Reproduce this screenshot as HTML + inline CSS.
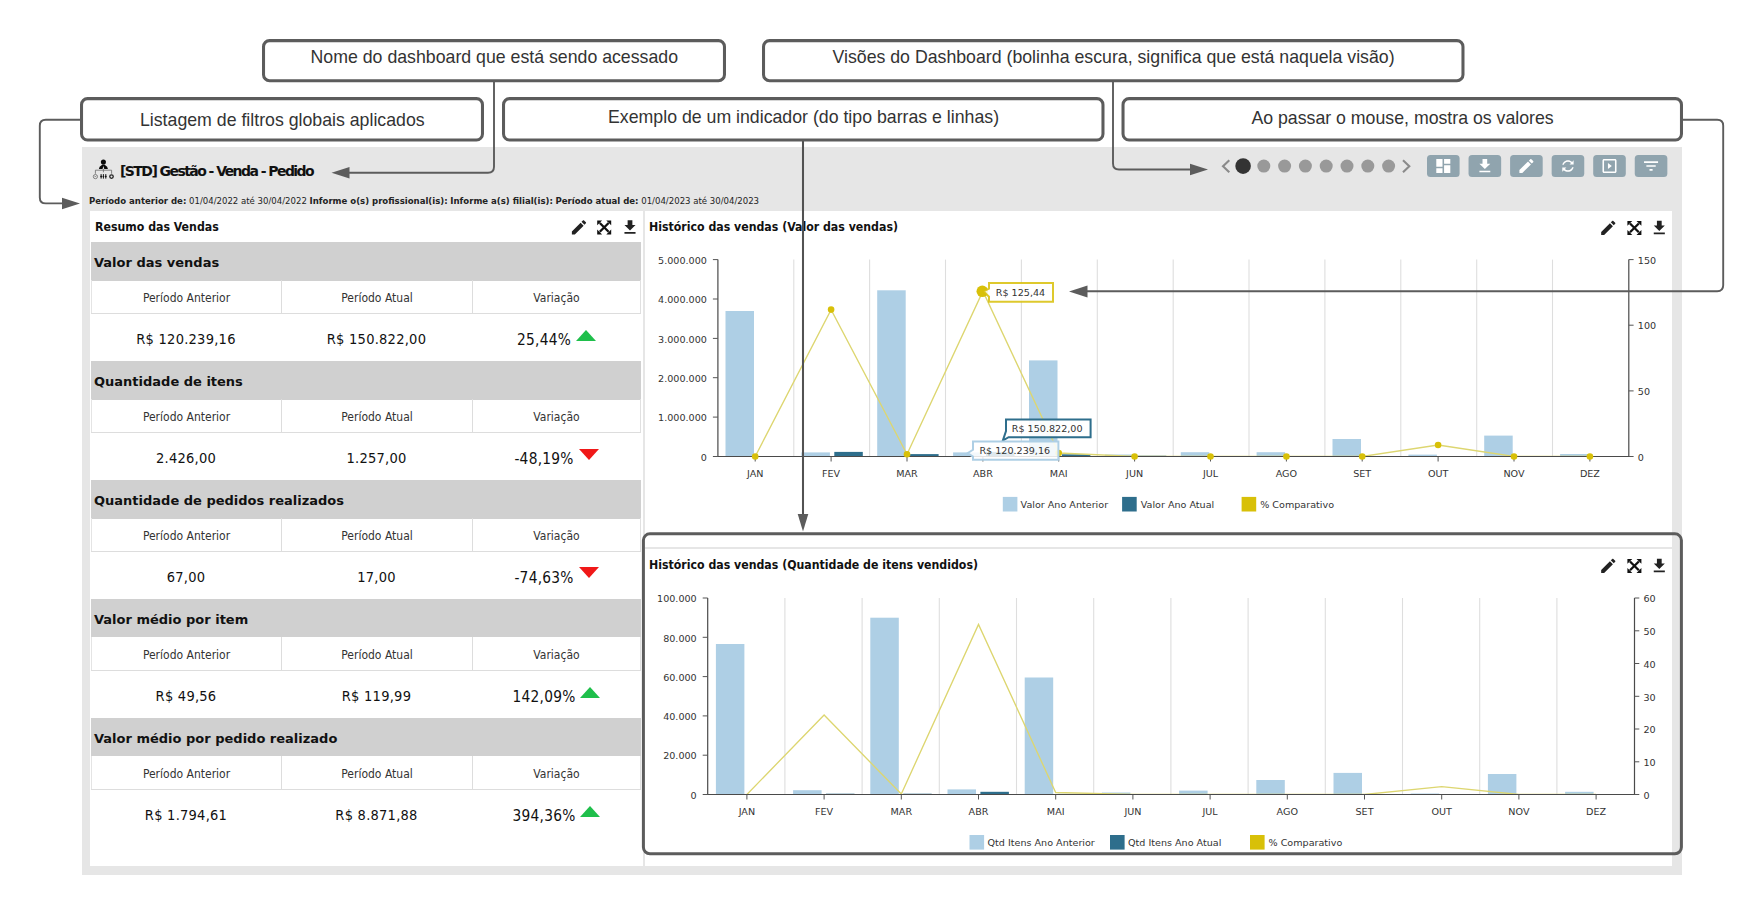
<!DOCTYPE html>
<html lang="pt-BR"><head><meta charset="utf-8"><title>[STD] Gestão - Venda - Pedido</title>
<style>
html,body{margin:0;padding:0;background:#fff;}
body{width:1763px;height:914px;position:relative;overflow:hidden;font-family:"DejaVu Sans Condensed","DejaVu Sans","Liberation Sans",sans-serif;color:#111;}
.abs{position:absolute;}
.panel{position:absolute;background:#fff;}
.note{position:absolute;box-sizing:border-box;border:2.5px solid #5a5a5a;border-radius:7px;background:#fff;font-family:"Liberation Sans",sans-serif;font-size:17px;color:#333;text-align:center;white-space:nowrap;}
.note span{position:absolute;left:0;right:0;}
.t{position:absolute;white-space:nowrap;line-height:1;}
.ptitle{font-weight:bold;font-size:12.23px;color:#111;}
.band{position:absolute;left:91px;width:550px;height:38.4px;background:#d0d0d0;}
.band span{position:absolute;left:3px;top:13.9px;font-family:"DejaVu Sans",sans-serif;font-weight:bold;font-size:13px;line-height:1;white-space:nowrap;color:#111;}
.hrow{position:absolute;left:91px;width:550px;height:34px;box-sizing:border-box;border-bottom:1px solid #ddd;}
.hrow div{position:absolute;top:0;height:33px;line-height:36px;text-align:center;font-size:12px;color:#333;box-sizing:border-box;}
.vrow{position:absolute;left:91px;width:550px;height:47px;}
.vrow div{position:absolute;top:0;height:47px;line-height:51px;text-align:center;font-size:14.5px;letter-spacing:0.25px;color:#111;white-space:nowrap;}
.c1{left:0;width:190px;}
.hrow .c1{border-left:1px solid #e4e4e4;}
.hrow .c3{border-right:1px solid #e0e0e0;}
.c2{left:190px;width:191px;border-left:1px solid #ddd;}
.c3{left:381px;width:169px;border-left:1px solid #ddd;}
.vrow .c2,.vrow .c3{border-left:none;}
.up{display:inline-block;width:0;height:0;border-left:10px solid transparent;border-right:10px solid transparent;border-bottom:11px solid #1fbf4b;margin-left:5px;position:relative;top:-2.6px;}
.dn{display:inline-block;width:0;height:0;border-left:10px solid transparent;border-right:10px solid transparent;border-top:11px solid #f01818;margin-left:5px;position:relative;top:-3.4px;}
svg text{font-family:"DejaVu Sans",sans-serif;}
</style></head><body>

<div class="abs" style="left:82px;top:147px;width:1600px;height:728px;background:#e6e6e6;"></div>
<div class="panel" style="left:90px;top:211px;width:552.5px;height:655px;"></div>
<div class="panel" style="left:644.5px;top:211px;width:1027.5px;height:336px;"></div>
<div class="panel" style="left:644.5px;top:549px;width:1027.5px;height:317px;"></div>
<div class="t" style="left:120px;top:164px;font-family:'DejaVu Sans',sans-serif;font-size:14px;font-weight:bold;letter-spacing:-1.56px;color:#111;">[STD] Gestão - Venda - Pedido</div>
<div class="t" style="left:89px;top:196.2px;font-size:9.5px;color:#222;"><b>Período anterior de:</b> 01/04/2022 até 30/04/2022 <b>Informe o(s) profissional(is):</b> <b>Informe a(s) filial(is):</b> <b>Período atual de:</b> 01/04/2023 até 30/04/2023</div>
<div class="t ptitle" style="left:95px;top:220.5px;">Resumo das Vendas</div>
<div class="t ptitle" style="left:649px;top:220.5px;">Histórico das vendas (Valor das vendas)</div>
<div class="t ptitle" style="left:649px;top:558.5px;">Histórico das vendas (Quantidade de itens vendidos)</div>
<div class="band" style="top:242.4px;"><span>Valor das vendas</span></div>
<div class="hrow" style="top:280.4px;"><div class="c1">Período Anterior</div><div class="c2">Período Atual</div><div class="c3">Variação</div></div>
<div class="vrow" style="top:314.0px;"><div class="c1">R$ 120.239,16</div><div class="c2">R$ 150.822,00</div><div class="c3"><span style="position:relative;top:1.4px;font-size:15.3px;">25,44%</span><i class="up"></i></div></div>
<div class="band" style="top:361.3px;"><span>Quantidade de itens</span></div>
<div class="hrow" style="top:399.3px;"><div class="c1">Período Anterior</div><div class="c2">Período Atual</div><div class="c3">Variação</div></div>
<div class="vrow" style="top:432.9px;"><div class="c1">2.426,00</div><div class="c2">1.257,00</div><div class="c3"><span style="position:relative;top:1.4px;font-size:15.3px;">-48,19%</span><i class="dn"></i></div></div>
<div class="band" style="top:480.2px;"><span>Quantidade de pedidos realizados</span></div>
<div class="hrow" style="top:518.2px;"><div class="c1">Período Anterior</div><div class="c2">Período Atual</div><div class="c3">Variação</div></div>
<div class="vrow" style="top:551.8px;"><div class="c1">67,00</div><div class="c2">17,00</div><div class="c3"><span style="position:relative;top:1.4px;font-size:15.3px;">-74,63%</span><i class="dn"></i></div></div>
<div class="band" style="top:599.1px;"><span>Valor médio por item</span></div>
<div class="hrow" style="top:637.1px;"><div class="c1">Período Anterior</div><div class="c2">Período Atual</div><div class="c3">Variação</div></div>
<div class="vrow" style="top:670.7px;"><div class="c1">R$ 49,56</div><div class="c2">R$ 119,99</div><div class="c3"><span style="position:relative;top:1.4px;font-size:15.3px;">142,09%</span><i class="up"></i></div></div>
<div class="band" style="top:718.0px;"><span>Valor médio por pedido realizado</span></div>
<div class="hrow" style="top:756.0px;"><div class="c1">Período Anterior</div><div class="c2">Período Atual</div><div class="c3">Variação</div></div>
<div class="vrow" style="top:789.6px;"><div class="c1">R$ 1.794,61</div><div class="c2">R$ 8.871,88</div><div class="c3"><span style="position:relative;top:1.4px;font-size:15.3px;">394,36%</span><i class="up"></i></div></div>
<svg class="abs" style="left:0;top:0;" width="1763" height="914" viewBox="0 0 1763 914">
<g fill="#0a0a0a" stroke="none">
<circle cx="103.4" cy="162" r="2.55"/>
<path d="M98.9 168.9q0.2-2.6 2.6-3.6l1.4-0.9h1l1.4 0.9q2.4 1 2.6 3.6h-3.6l-0.9-3-0.9 3z"/>
</g>
<g stroke="#6a6a6a" stroke-width="0.8" fill="none">
<path d="M103.4 168.9v3.4M95.4 173.8v-3.6h16.2v3.6"/>
<circle cx="95.4" cy="176.6" r="2.1"/><path d="M94.5 175.8l0.9 1.1 0.9-1.1" stroke-width="0.7"/>
</g>
<circle cx="111.5" cy="176.6" r="1.75" fill="none" stroke="#222" stroke-width="1.3"/>
<g stroke="#111" stroke-width="0.9"><path d="M101.1 174v4.7M103.4 174v4.7M105.8 174v4.7"/></g>
<path d="M100.1 176.5l1-1.2 1 1.2-1 1.2zM102.4 176.5l1-1.2 1 1.2-1 1.2zM104.8 176.5l1-1.2 1 1.2-1 1.2z" fill="#111"/>
<path d="M1229.3 160.2 l-6.3 6 6.3 6" fill="none" stroke="#8a8a8a" stroke-width="2.1"/>
<path d="M1403 160.2 l6.3 6 -6.3 6" fill="none" stroke="#8a8a8a" stroke-width="2.1"/>
<circle cx="1243.1" cy="166.1" r="7.8" fill="#333"/>
<circle cx="1263.8" cy="166.1" r="6.5" fill="#999"/>
<circle cx="1284.6" cy="166.1" r="6.5" fill="#999"/>
<circle cx="1305.4" cy="166.1" r="6.5" fill="#999"/>
<circle cx="1326.2" cy="166.1" r="6.5" fill="#999"/>
<circle cx="1347.0" cy="166.1" r="6.5" fill="#999"/>
<circle cx="1367.8" cy="166.1" r="6.5" fill="#999"/>
<circle cx="1388.6" cy="166.1" r="6.5" fill="#999"/>
<rect x="1427.00" y="155" width="32.6" height="22" rx="3.5" fill="#90a4ae"/>
<path transform="translate(1433.95,156.65) scale(0.7792)" d="M3 13h8V3H3v10zm0 8h8v-6H3v6zm10 0h8V11h-8v10zm0-18v6h8V3h-8z" fill="#fff"/>
<rect x="1468.55" y="155" width="32.6" height="22" rx="3.5" fill="#90a4ae"/>
<path transform="translate(1475.50,156.65) scale(0.7792)" d="M19 9h-4V3H9v6H5l7 7 7-7zM5 18v2h14v-2H5z" fill="#fff"/>
<rect x="1510.10" y="155" width="32.6" height="22" rx="3.5" fill="#90a4ae"/>
<path transform="translate(1517.05,156.65) scale(0.7792)" d="M3 17.25V21h3.75L17.81 9.94l-3.75-3.75L3 17.25zM20.71 7.04c.39-.39.39-1.02 0-1.41l-2.34-2.34c-.39-.39-1.02-.39-1.41 0l-1.83 1.83 3.75 3.75 1.83-1.83z" fill="#fff"/>
<rect x="1551.65" y="155" width="32.6" height="22" rx="3.5" fill="#90a4ae"/>
<path transform="translate(1559.20,157.25) scale(0.7292) rotate(45 12 12) translate(24,0) scale(-1,1)" d="M12 4V1L8 5l4 4V6c3.31 0 6 2.69 6 6 0 1.01-.25 1.97-.7 2.8l1.46 1.46C19.54 15.03 20 13.57 20 12c0-4.42-3.58-8-8-8zm0 14c-3.31 0-6-2.69-6-6 0-1.01.25-1.97.7-2.8L5.24 7.74C4.46 8.97 4 10.43 4 12c0 4.42 3.58 8 8 8v3l4-4-4-4v3z" fill="#fff"/>
<rect x="1593.20" y="155" width="32.6" height="22" rx="3.5" fill="#90a4ae"/>
<path transform="translate(1600.15,156.65) scale(0.7792)" d="M10 8v8l5-4-5-4zm9-5H5c-1.1 0-2 .9-2 2v14c0 1.1.9 2 2 2h14c1.1 0 2-.9 2-2V5c0-1.1-.9-2-2-2zm0 16H5V5h14v14z" fill="#fff"/>
<rect x="1634.75" y="155" width="32.6" height="22" rx="3.5" fill="#90a4ae"/>
<path transform="translate(1641.70,156.65) scale(0.7792)" d="M10 18h4v-2h-4v2zM3 6v2h18V6H3zm3 7h12v-2H6v2z" fill="#fff"/>
<path transform="translate(569.50,217.80) scale(0.7917)" d="M3 17.25V21h3.75L17.81 9.94l-3.75-3.75L3 17.25zM20.71 7.04c.39-.39.39-1.02 0-1.41l-2.34-2.34c-.39-.39-1.02-.39-1.41 0l-1.83 1.83 3.75 3.75 1.83-1.83z" fill="#222"/>
<g transform="translate(597.20,220.40)" fill="#111" stroke="#111"><path d="M2.6 2.6L11.4 11.4M11.4 2.6L2.6 11.4" stroke-width="2.3" fill="none"/><path d="M0 0h4.9L0 4.9zM14 0h-4.9L14 4.9zM0 14h4.9L0 9.1zM14 14h-4.9L14 9.1z" stroke="none"/></g>
<path transform="translate(620.50,217.80) scale(0.7917)" d="M19 9h-4V3H9v6H5l7 7 7-7zM5 18v2h14v-2H5z" fill="#222"/>
<path transform="translate(1598.80,218.30) scale(0.7917)" d="M3 17.25V21h3.75L17.81 9.94l-3.75-3.75L3 17.25zM20.71 7.04c.39-.39.39-1.02 0-1.41l-2.34-2.34c-.39-.39-1.02-.39-1.41 0l-1.83 1.83 3.75 3.75 1.83-1.83z" fill="#222"/>
<g transform="translate(1627.40,220.90)" fill="#111" stroke="#111"><path d="M2.6 2.6L11.4 11.4M11.4 2.6L2.6 11.4" stroke-width="2.3" fill="none"/><path d="M0 0h4.9L0 4.9zM14 0h-4.9L14 4.9zM0 14h4.9L0 9.1zM14 14h-4.9L14 9.1z" stroke="none"/></g>
<path transform="translate(1649.80,218.30) scale(0.7917)" d="M19 9h-4V3H9v6H5l7 7 7-7zM5 18v2h14v-2H5z" fill="#222"/>
<path transform="translate(1598.80,556.30) scale(0.7917)" d="M3 17.25V21h3.75L17.81 9.94l-3.75-3.75L3 17.25zM20.71 7.04c.39-.39.39-1.02 0-1.41l-2.34-2.34c-.39-.39-1.02-.39-1.41 0l-1.83 1.83 3.75 3.75 1.83-1.83z" fill="#222"/>
<g transform="translate(1627.40,558.90)" fill="#111" stroke="#111"><path d="M2.6 2.6L11.4 11.4M11.4 2.6L2.6 11.4" stroke-width="2.3" fill="none"/><path d="M0 0h4.9L0 4.9zM14 0h-4.9L14 4.9zM0 14h4.9L0 9.1zM14 14h-4.9L14 9.1z" stroke="none"/></g>
<path transform="translate(1649.80,556.30) scale(0.7917)" d="M19 9h-4V3H9v6H5l7 7 7-7zM5 18v2h14v-2H5z" fill="#222"/>
<line x1="793.8" y1="259.6" x2="793.8" y2="456.5" stroke="#dedede" stroke-width="1.1"/>
<line x1="869.6" y1="259.6" x2="869.6" y2="456.5" stroke="#dedede" stroke-width="1.1"/>
<line x1="945.5" y1="259.6" x2="945.5" y2="456.5" stroke="#dedede" stroke-width="1.1"/>
<line x1="1021.4" y1="259.6" x2="1021.4" y2="456.5" stroke="#dedede" stroke-width="1.1"/>
<line x1="1097.3" y1="259.6" x2="1097.3" y2="456.5" stroke="#dedede" stroke-width="1.1"/>
<line x1="1173.2" y1="259.6" x2="1173.2" y2="456.5" stroke="#dedede" stroke-width="1.1"/>
<line x1="1249.0" y1="259.6" x2="1249.0" y2="456.5" stroke="#dedede" stroke-width="1.1"/>
<line x1="1324.9" y1="259.6" x2="1324.9" y2="456.5" stroke="#dedede" stroke-width="1.1"/>
<line x1="1400.8" y1="259.6" x2="1400.8" y2="456.5" stroke="#dedede" stroke-width="1.1"/>
<line x1="1476.7" y1="259.6" x2="1476.7" y2="456.5" stroke="#dedede" stroke-width="1.1"/>
<line x1="1552.5" y1="259.6" x2="1552.5" y2="456.5" stroke="#dedede" stroke-width="1.1"/>
<rect x="725.5" y="311.0" width="28.5" height="145.5" fill="#aecfe5"/>
<rect x="801.4" y="452.4" width="28.5" height="4.1" fill="#aecfe5"/>
<rect x="834.3" y="451.9" width="28.5" height="4.6" fill="#2e6e8c"/>
<rect x="877.2" y="290.3" width="28.5" height="166.2" fill="#aecfe5"/>
<rect x="910.1" y="454.1" width="28.5" height="2.4" fill="#2e6e8c"/>
<rect x="953.1" y="452.4" width="28.5" height="4.1" fill="#aecfe5"/>
<rect x="986.0" y="451.9" width="28.5" height="4.6" fill="#2e6e8c"/>
<rect x="1029.0" y="360.4" width="28.5" height="96.1" fill="#aecfe5"/>
<rect x="1061.9" y="454.3" width="28.5" height="2.2" fill="#2e6e8c"/>
<rect x="1104.9" y="454.5" width="28.5" height="2.0" fill="#aecfe5"/>
<rect x="1137.8" y="455.7" width="28.5" height="0.8" fill="#2e6e8c"/>
<rect x="1180.8" y="452.2" width="28.5" height="4.3" fill="#aecfe5"/>
<rect x="1256.6" y="452.2" width="28.5" height="4.3" fill="#aecfe5"/>
<rect x="1332.5" y="439.0" width="28.5" height="17.5" fill="#aecfe5"/>
<rect x="1408.4" y="454.6" width="28.5" height="1.9" fill="#aecfe5"/>
<rect x="1484.2" y="435.6" width="28.5" height="20.9" fill="#aecfe5"/>
<rect x="1560.1" y="454.0" width="28.5" height="2.5" fill="#aecfe5"/>
<clipPath id="clip717"><rect x="712.9" y="247.60000000000002" width="920.5" height="208.3"/></clipPath>
<polyline points="755.2,456.5 831.1,309.6 907.0,454.3 982.9,291.2 1058.7,453.0 1134.6,456.5 1210.5,456.5 1286.4,456.5 1362.2,456.5 1438.1,445.0 1514.0,456.5 1589.9,456.5" fill="none" stroke="#ddd670" stroke-width="1.35" clip-path="url(#clip717)"/>
<path d="M717.9 259.6V456.5H1628.8V259.6" fill="none" stroke="#4a4a4a" stroke-width="1.2"/>
<line x1="712.9" y1="259.6" x2="717.9" y2="259.6" stroke="#555" stroke-width="1"/>
<text transform="translate(706.9,263.8) scale(1.066,1)" font-size="9" text-anchor="end" fill="#333">5.000.000</text>
<line x1="712.9" y1="299.0" x2="717.9" y2="299.0" stroke="#555" stroke-width="1"/>
<text transform="translate(706.9,303.2) scale(1.066,1)" font-size="9" text-anchor="end" fill="#333">4.000.000</text>
<line x1="712.9" y1="338.4" x2="717.9" y2="338.4" stroke="#555" stroke-width="1"/>
<text transform="translate(706.9,342.6) scale(1.066,1)" font-size="9" text-anchor="end" fill="#333">3.000.000</text>
<line x1="712.9" y1="377.7" x2="717.9" y2="377.7" stroke="#555" stroke-width="1"/>
<text transform="translate(706.9,381.9) scale(1.066,1)" font-size="9" text-anchor="end" fill="#333">2.000.000</text>
<line x1="712.9" y1="417.1" x2="717.9" y2="417.1" stroke="#555" stroke-width="1"/>
<text transform="translate(706.9,421.3) scale(1.066,1)" font-size="9" text-anchor="end" fill="#333">1.000.000</text>
<line x1="712.9" y1="456.5" x2="717.9" y2="456.5" stroke="#555" stroke-width="1"/>
<text transform="translate(706.9,460.7) scale(1.066,1)" font-size="9" text-anchor="end" fill="#333">0</text>
<line x1="1628.8" y1="259.6" x2="1633.6" y2="259.6" stroke="#555" stroke-width="1"/>
<text transform="translate(1637.8,263.8) scale(1.066,1)" font-size="9" text-anchor="start" fill="#333">150</text>
<line x1="1628.8" y1="325.2" x2="1633.6" y2="325.2" stroke="#555" stroke-width="1"/>
<text transform="translate(1637.8,329.4) scale(1.066,1)" font-size="9" text-anchor="start" fill="#333">100</text>
<line x1="1628.8" y1="390.9" x2="1633.6" y2="390.9" stroke="#555" stroke-width="1"/>
<text transform="translate(1637.8,395.1) scale(1.066,1)" font-size="9" text-anchor="start" fill="#333">50</text>
<line x1="1628.8" y1="456.5" x2="1633.6" y2="456.5" stroke="#555" stroke-width="1"/>
<text transform="translate(1637.8,460.7) scale(1.066,1)" font-size="9" text-anchor="start" fill="#333">0</text>
<line x1="755.2" y1="456.5" x2="755.2" y2="461.5" stroke="#555" stroke-width="1"/>
<text transform="translate(755.2,477.2) scale(1.066,1)" font-size="9" text-anchor="middle" fill="#333">JAN</text>
<line x1="831.1" y1="456.5" x2="831.1" y2="461.5" stroke="#555" stroke-width="1"/>
<text transform="translate(831.1,477.2) scale(1.066,1)" font-size="9" text-anchor="middle" fill="#333">FEV</text>
<line x1="907.0" y1="456.5" x2="907.0" y2="461.5" stroke="#555" stroke-width="1"/>
<text transform="translate(907.0,477.2) scale(1.066,1)" font-size="9" text-anchor="middle" fill="#333">MAR</text>
<line x1="982.9" y1="456.5" x2="982.9" y2="461.5" stroke="#555" stroke-width="1"/>
<text transform="translate(982.9,477.2) scale(1.066,1)" font-size="9" text-anchor="middle" fill="#333">ABR</text>
<line x1="1058.7" y1="456.5" x2="1058.7" y2="461.5" stroke="#555" stroke-width="1"/>
<text transform="translate(1058.7,477.2) scale(1.066,1)" font-size="9" text-anchor="middle" fill="#333">MAI</text>
<line x1="1134.6" y1="456.5" x2="1134.6" y2="461.5" stroke="#555" stroke-width="1"/>
<text transform="translate(1134.6,477.2) scale(1.066,1)" font-size="9" text-anchor="middle" fill="#333">JUN</text>
<line x1="1210.5" y1="456.5" x2="1210.5" y2="461.5" stroke="#555" stroke-width="1"/>
<text transform="translate(1210.5,477.2) scale(1.066,1)" font-size="9" text-anchor="middle" fill="#333">JUL</text>
<line x1="1286.4" y1="456.5" x2="1286.4" y2="461.5" stroke="#555" stroke-width="1"/>
<text transform="translate(1286.4,477.2) scale(1.066,1)" font-size="9" text-anchor="middle" fill="#333">AGO</text>
<line x1="1362.2" y1="456.5" x2="1362.2" y2="461.5" stroke="#555" stroke-width="1"/>
<text transform="translate(1362.2,477.2) scale(1.066,1)" font-size="9" text-anchor="middle" fill="#333">SET</text>
<line x1="1438.1" y1="456.5" x2="1438.1" y2="461.5" stroke="#555" stroke-width="1"/>
<text transform="translate(1438.1,477.2) scale(1.066,1)" font-size="9" text-anchor="middle" fill="#333">OUT</text>
<line x1="1514.0" y1="456.5" x2="1514.0" y2="461.5" stroke="#555" stroke-width="1"/>
<text transform="translate(1514.0,477.2) scale(1.066,1)" font-size="9" text-anchor="middle" fill="#333">NOV</text>
<line x1="1589.9" y1="456.5" x2="1589.9" y2="461.5" stroke="#555" stroke-width="1"/>
<text transform="translate(1589.9,477.2) scale(1.066,1)" font-size="9" text-anchor="middle" fill="#333">DEZ</text>
<circle cx="755.2" cy="456.5" r="3.3" fill="#d8c008"/>
<circle cx="831.1" cy="309.6" r="3.3" fill="#d8c008"/>
<circle cx="907.0" cy="454.3" r="3.3" fill="#d8c008"/>
<circle cx="982.9" cy="291.2" r="3.3" fill="#d8c008"/>
<circle cx="1058.7" cy="453.0" r="3.3" fill="#d8c008"/>
<circle cx="1134.6" cy="456.5" r="3.3" fill="#d8c008"/>
<circle cx="1210.5" cy="456.5" r="3.3" fill="#d8c008"/>
<circle cx="1286.4" cy="456.5" r="3.3" fill="#d8c008"/>
<circle cx="1362.2" cy="456.5" r="3.3" fill="#d8c008"/>
<circle cx="1438.1" cy="445.0" r="3.3" fill="#d8c008"/>
<circle cx="1514.0" cy="456.5" r="3.3" fill="#d8c008"/>
<circle cx="1589.9" cy="456.5" r="3.3" fill="#d8c008"/>
<rect x="1002.8" y="496.9" width="14.6" height="14.6" fill="#aecfe5"/>
<text transform="translate(1020.6,508.0) scale(1.066,1)" font-size="9" text-anchor="start" fill="#333">Valor Ano Anterior</text>
<rect x="1122.1" y="496.9" width="14.6" height="14.6" fill="#2e6e8c"/>
<text transform="translate(1140.7,508.0) scale(1.066,1)" font-size="9" text-anchor="start" fill="#333">Valor Ano Atual</text>
<rect x="1241.6" y="496.9" width="14.6" height="14.6" fill="#d8c008"/>
<text transform="translate(1260.2,508.0) scale(1.066,1)" font-size="9" text-anchor="start" fill="#333">% Comparativo</text>
<circle cx="982.3" cy="291.3" r="5.8" fill="#d8c008"/>
<path d="M989 283h64v18.7h-64v-5l-5.5-5.4 5.5-2.6z" fill="#fff" fill-opacity="0.85" stroke="#d8c008" stroke-opacity="0.85" stroke-width="2" stroke-linejoin="miter"/>
<text transform="translate(995.8,295.9) scale(1.066,1)" font-size="9" text-anchor="start" fill="#333">R$ 125,44</text>
<path d="M1006 419.4H1090.6V437.2H1008.6L1002.8 440.6L1006 431Z" fill="#fff" fill-opacity="0.92" stroke="#2e6e8c" stroke-width="2"/>
<text transform="translate(1011.8,432.1) scale(1.066,1)" font-size="9" text-anchor="start" fill="#333">R$ 150.822,00</text>
<path d="M973 441.6h85.4v18.2h-85.4v-3.2l-5.5-3.4 5.5-3.4z" fill="#fff" fill-opacity="0.85" stroke="#aecfe5" stroke-width="2"/>
<text transform="translate(979.4,454.0) scale(1.066,1)" font-size="9" text-anchor="start" fill="#333">R$ 120.239,16</text>
<line x1="784.9" y1="598.0" x2="784.9" y2="794.5" stroke="#dedede" stroke-width="1.1"/>
<line x1="862.1" y1="598.0" x2="862.1" y2="794.5" stroke="#dedede" stroke-width="1.1"/>
<line x1="939.3" y1="598.0" x2="939.3" y2="794.5" stroke="#dedede" stroke-width="1.1"/>
<line x1="1016.5" y1="598.0" x2="1016.5" y2="794.5" stroke="#dedede" stroke-width="1.1"/>
<line x1="1093.7" y1="598.0" x2="1093.7" y2="794.5" stroke="#dedede" stroke-width="1.1"/>
<line x1="1170.9" y1="598.0" x2="1170.9" y2="794.5" stroke="#dedede" stroke-width="1.1"/>
<line x1="1248.1" y1="598.0" x2="1248.1" y2="794.5" stroke="#dedede" stroke-width="1.1"/>
<line x1="1325.3" y1="598.0" x2="1325.3" y2="794.5" stroke="#dedede" stroke-width="1.1"/>
<line x1="1402.5" y1="598.0" x2="1402.5" y2="794.5" stroke="#dedede" stroke-width="1.1"/>
<line x1="1479.7" y1="598.0" x2="1479.7" y2="794.5" stroke="#dedede" stroke-width="1.1"/>
<line x1="1556.9" y1="598.0" x2="1556.9" y2="794.5" stroke="#dedede" stroke-width="1.1"/>
<rect x="715.9" y="644.0" width="28.5" height="150.5" fill="#aecfe5"/>
<rect x="793.1" y="790.2" width="28.5" height="4.3" fill="#aecfe5"/>
<rect x="826.0" y="793.7" width="28.5" height="0.8" fill="#2e6e8c"/>
<rect x="870.3" y="617.7" width="28.5" height="176.8" fill="#aecfe5"/>
<rect x="903.2" y="793.7" width="28.5" height="0.8" fill="#2e6e8c"/>
<rect x="947.5" y="789.4" width="28.5" height="5.1" fill="#aecfe5"/>
<rect x="980.4" y="791.8" width="28.5" height="2.7" fill="#2e6e8c"/>
<rect x="1024.7" y="677.5" width="28.5" height="117.0" fill="#aecfe5"/>
<rect x="1057.6" y="793.9" width="28.5" height="0.6" fill="#2e6e8c"/>
<rect x="1101.9" y="792.5" width="28.5" height="2.0" fill="#aecfe5"/>
<rect x="1179.1" y="790.6" width="28.5" height="3.9" fill="#aecfe5"/>
<rect x="1256.3" y="780.0" width="28.5" height="14.5" fill="#aecfe5"/>
<rect x="1333.5" y="772.9" width="28.5" height="21.6" fill="#aecfe5"/>
<rect x="1410.7" y="793.5" width="28.5" height="1.0" fill="#aecfe5"/>
<rect x="1487.9" y="774.0" width="28.5" height="20.5" fill="#aecfe5"/>
<rect x="1565.1" y="791.8" width="28.5" height="2.7" fill="#aecfe5"/>
<clipPath id="clip707"><rect x="702.7" y="586.0" width="936.4" height="207.9"/></clipPath>
<polyline points="746.9,794.5 824.1,715.0 901.3,794.0 978.5,624.4 1055.7,792.5 1132.9,794.5 1210.1,794.5 1287.3,794.5 1364.5,794.5 1441.7,786.6 1518.9,794.5 1596.1,794.5" fill="none" stroke="#ddd670" stroke-width="1.35" clip-path="url(#clip707)"/>
<path d="M707.7 598.0V794.5H1634.5V598.0" fill="none" stroke="#4a4a4a" stroke-width="1.2"/>
<line x1="702.7" y1="598.0" x2="707.7" y2="598.0" stroke="#555" stroke-width="1"/>
<text transform="translate(696.7,602.2) scale(1.066,1)" font-size="9" text-anchor="end" fill="#333">100.000</text>
<line x1="702.7" y1="637.3" x2="707.7" y2="637.3" stroke="#555" stroke-width="1"/>
<text transform="translate(696.7,641.5) scale(1.066,1)" font-size="9" text-anchor="end" fill="#333">80.000</text>
<line x1="702.7" y1="676.6" x2="707.7" y2="676.6" stroke="#555" stroke-width="1"/>
<text transform="translate(696.7,680.8) scale(1.066,1)" font-size="9" text-anchor="end" fill="#333">60.000</text>
<line x1="702.7" y1="715.9" x2="707.7" y2="715.9" stroke="#555" stroke-width="1"/>
<text transform="translate(696.7,720.1) scale(1.066,1)" font-size="9" text-anchor="end" fill="#333">40.000</text>
<line x1="702.7" y1="755.2" x2="707.7" y2="755.2" stroke="#555" stroke-width="1"/>
<text transform="translate(696.7,759.4) scale(1.066,1)" font-size="9" text-anchor="end" fill="#333">20.000</text>
<line x1="702.7" y1="794.5" x2="707.7" y2="794.5" stroke="#555" stroke-width="1"/>
<text transform="translate(696.7,798.7) scale(1.066,1)" font-size="9" text-anchor="end" fill="#333">0</text>
<line x1="1634.5" y1="598.0" x2="1639.3" y2="598.0" stroke="#555" stroke-width="1"/>
<text transform="translate(1643.5,602.2) scale(1.066,1)" font-size="9" text-anchor="start" fill="#333">60</text>
<line x1="1634.5" y1="630.8" x2="1639.3" y2="630.8" stroke="#555" stroke-width="1"/>
<text transform="translate(1643.5,635.0) scale(1.066,1)" font-size="9" text-anchor="start" fill="#333">50</text>
<line x1="1634.5" y1="663.5" x2="1639.3" y2="663.5" stroke="#555" stroke-width="1"/>
<text transform="translate(1643.5,667.7) scale(1.066,1)" font-size="9" text-anchor="start" fill="#333">40</text>
<line x1="1634.5" y1="696.3" x2="1639.3" y2="696.3" stroke="#555" stroke-width="1"/>
<text transform="translate(1643.5,700.5) scale(1.066,1)" font-size="9" text-anchor="start" fill="#333">30</text>
<line x1="1634.5" y1="729.0" x2="1639.3" y2="729.0" stroke="#555" stroke-width="1"/>
<text transform="translate(1643.5,733.2) scale(1.066,1)" font-size="9" text-anchor="start" fill="#333">20</text>
<line x1="1634.5" y1="761.8" x2="1639.3" y2="761.8" stroke="#555" stroke-width="1"/>
<text transform="translate(1643.5,766.0) scale(1.066,1)" font-size="9" text-anchor="start" fill="#333">10</text>
<line x1="1634.5" y1="794.5" x2="1639.3" y2="794.5" stroke="#555" stroke-width="1"/>
<text transform="translate(1643.5,798.7) scale(1.066,1)" font-size="9" text-anchor="start" fill="#333">0</text>
<line x1="746.9" y1="794.5" x2="746.9" y2="799.5" stroke="#555" stroke-width="1"/>
<text transform="translate(746.9,815.2) scale(1.066,1)" font-size="9" text-anchor="middle" fill="#333">JAN</text>
<line x1="824.1" y1="794.5" x2="824.1" y2="799.5" stroke="#555" stroke-width="1"/>
<text transform="translate(824.1,815.2) scale(1.066,1)" font-size="9" text-anchor="middle" fill="#333">FEV</text>
<line x1="901.3" y1="794.5" x2="901.3" y2="799.5" stroke="#555" stroke-width="1"/>
<text transform="translate(901.3,815.2) scale(1.066,1)" font-size="9" text-anchor="middle" fill="#333">MAR</text>
<line x1="978.5" y1="794.5" x2="978.5" y2="799.5" stroke="#555" stroke-width="1"/>
<text transform="translate(978.5,815.2) scale(1.066,1)" font-size="9" text-anchor="middle" fill="#333">ABR</text>
<line x1="1055.7" y1="794.5" x2="1055.7" y2="799.5" stroke="#555" stroke-width="1"/>
<text transform="translate(1055.7,815.2) scale(1.066,1)" font-size="9" text-anchor="middle" fill="#333">MAI</text>
<line x1="1132.9" y1="794.5" x2="1132.9" y2="799.5" stroke="#555" stroke-width="1"/>
<text transform="translate(1132.9,815.2) scale(1.066,1)" font-size="9" text-anchor="middle" fill="#333">JUN</text>
<line x1="1210.1" y1="794.5" x2="1210.1" y2="799.5" stroke="#555" stroke-width="1"/>
<text transform="translate(1210.1,815.2) scale(1.066,1)" font-size="9" text-anchor="middle" fill="#333">JUL</text>
<line x1="1287.3" y1="794.5" x2="1287.3" y2="799.5" stroke="#555" stroke-width="1"/>
<text transform="translate(1287.3,815.2) scale(1.066,1)" font-size="9" text-anchor="middle" fill="#333">AGO</text>
<line x1="1364.5" y1="794.5" x2="1364.5" y2="799.5" stroke="#555" stroke-width="1"/>
<text transform="translate(1364.5,815.2) scale(1.066,1)" font-size="9" text-anchor="middle" fill="#333">SET</text>
<line x1="1441.7" y1="794.5" x2="1441.7" y2="799.5" stroke="#555" stroke-width="1"/>
<text transform="translate(1441.7,815.2) scale(1.066,1)" font-size="9" text-anchor="middle" fill="#333">OUT</text>
<line x1="1518.9" y1="794.5" x2="1518.9" y2="799.5" stroke="#555" stroke-width="1"/>
<text transform="translate(1518.9,815.2) scale(1.066,1)" font-size="9" text-anchor="middle" fill="#333">NOV</text>
<line x1="1596.1" y1="794.5" x2="1596.1" y2="799.5" stroke="#555" stroke-width="1"/>
<text transform="translate(1596.1,815.2) scale(1.066,1)" font-size="9" text-anchor="middle" fill="#333">DEZ</text>
<rect x="969.5" y="835" width="14.6" height="14.6" fill="#aecfe5"/>
<text transform="translate(987.5,846.1) scale(1.066,1)" font-size="9" text-anchor="start" fill="#333">Qtd Itens Ano Anterior</text>
<rect x="1110" y="835" width="14.6" height="14.6" fill="#2e6e8c"/>
<text transform="translate(1128.0,846.1) scale(1.066,1)" font-size="9" text-anchor="start" fill="#333">Qtd Itens Ano Atual</text>
<rect x="1250" y="835" width="14.6" height="14.6" fill="#d8c008"/>
<text transform="translate(1268.5,846.1) scale(1.066,1)" font-size="9" text-anchor="start" fill="#333">% Comparativo</text>
<path d="M494 82V166.7q0 6 -6 6H348" fill="none" stroke="#5c5c5c" stroke-width="1.9"/>
<path d="M331.5 172.7l18 -5.75v11.5z" fill="#5c5c5c"/>
<path d="M1113 82V163.5q0 6 6 6H1192" fill="none" stroke="#5c5c5c" stroke-width="1.9"/>
<path d="M1208 169.5l-18 -5.75v11.5z" fill="#5c5c5c"/>
<path d="M803 141V515" fill="none" stroke="#525252" stroke-width="2.05"/>
<path d="M803 531.6l-5.3 -17.7h10.6z" fill="#5c5c5c"/>
<path d="M1683 119.7H1717.2q6 0 6 6V285.3q0 6 -6 6H1086" fill="none" stroke="#5c5c5c" stroke-width="1.9"/>
<path d="M1069.0 291.4l18.5 -6.0v12z" fill="#5c5c5c"/>
<path d="M81 119.7H45.8q-6 0 -6 6V197.4q0 6 6 6H64" fill="none" stroke="#5c5c5c" stroke-width="1.9"/>
<path d="M80 203.4l-18 -5.75v11.5z" fill="#5c5c5c"/>
<rect x="263.525" y="40.625" width="460.95" height="40.050000000000004" rx="6" fill="#fff" stroke="#5c5c5c" stroke-width="3.05"/>
<text x="494.3" y="63.1" text-anchor="middle" font-size="17.73" fill="#333" style="font-family:'Liberation Sans',sans-serif">Nome do dashboard que está sendo acessado</text>
<rect x="763.525" y="40.625" width="699.45" height="40.050000000000004" rx="6" fill="#fff" stroke="#5c5c5c" stroke-width="3.05"/>
<text x="1113.55" y="63.1" text-anchor="middle" font-size="17.73" fill="#333" style="font-family:'Liberation Sans',sans-serif">Visões do Dashboard (bolinha escura, significa que está naquela visão)</text>
<rect x="81.525" y="98.625" width="400.95" height="41.35000000000001" rx="6" fill="#fff" stroke="#5c5c5c" stroke-width="3.05"/>
<text x="282.3" y="125.9" text-anchor="middle" font-size="17.73" fill="#333" style="font-family:'Liberation Sans',sans-serif">Listagem de filtros globais aplicados</text>
<rect x="503.525" y="98.625" width="599.45" height="41.35000000000001" rx="6" fill="#fff" stroke="#5c5c5c" stroke-width="3.05"/>
<text x="803.55" y="123.1" text-anchor="middle" font-size="17.73" fill="#333" style="font-family:'Liberation Sans',sans-serif">Exemplo de um indicador (do tipo barras e linhas)</text>
<rect x="1123.025" y="98.625" width="558.45" height="41.35000000000001" rx="6" fill="#fff" stroke="#5c5c5c" stroke-width="3.05"/>
<text x="1402.55" y="124.0" text-anchor="middle" font-size="17.73" fill="#333" style="font-family:'Liberation Sans',sans-serif">Ao passar o mouse, mostra os valores</text>
<rect x="643.4" y="533.8" width="1038" height="320" rx="6.5" fill="none" stroke="#5c5c5c" stroke-width="3"/>
</svg>
</body></html>
